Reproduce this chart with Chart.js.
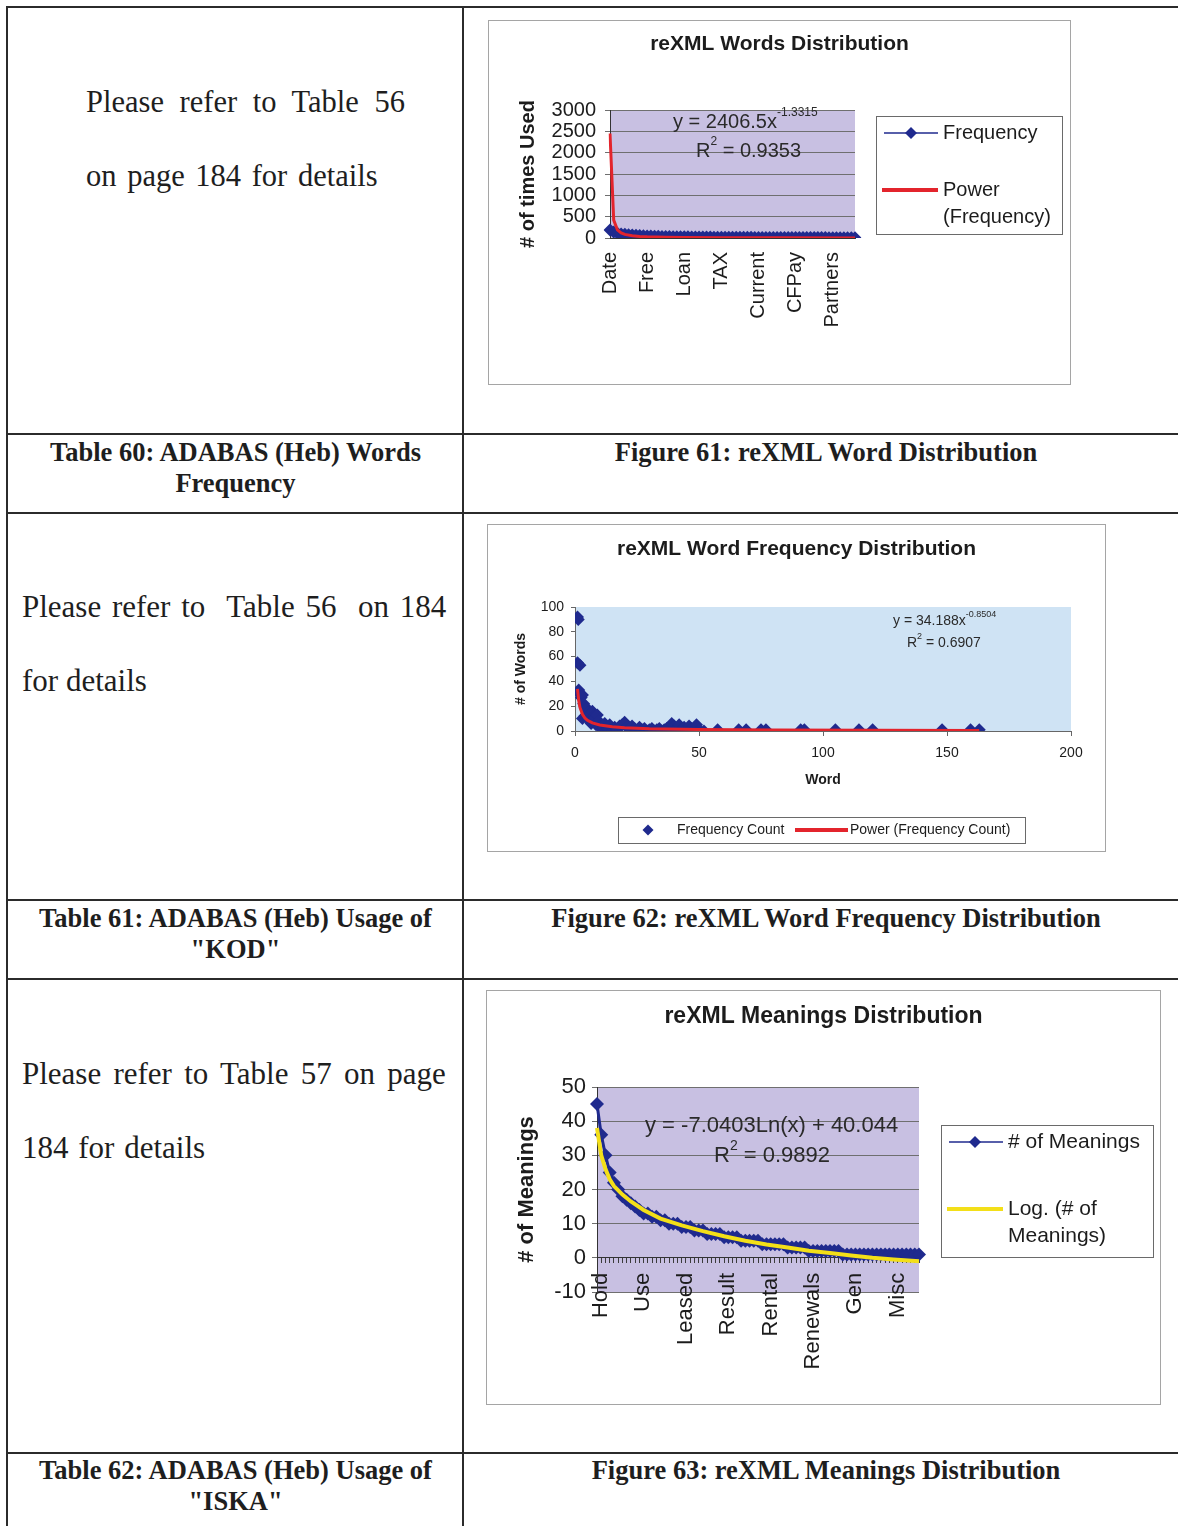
<!DOCTYPE html>
<html>
<head>
<meta charset="utf-8">
<script src="https://cdn.jsdelivr.net/npm/chart.js@4.4.1/dist/chart.umd.min.js"></script>
<style>
  html, body { margin: 0; padding: 0; background: #fff; }
  body { width: 1178px; height: 1526px; position: relative; overflow: hidden;
         font-family: "Liberation Serif", "Times New Roman", serif; color: #1e1e1e; }
  .h { position: absolute; left: 6px; width: 1180px; height: 2px; background: #2b2b2b; }
  .v { position: absolute; top: 6px; width: 2px; height: 1530px; background: #2b2b2b; }
  .txt { position: absolute; white-space: pre; line-height: 74px; }
  .cap { position: absolute; font-weight: bold; font-size: 26.5px; text-align: center; line-height: 31px; }
  canvas { position: absolute; }
</style>
</head>
<body>

<div class="h" style="top:6px"></div>
<div class="h" style="top:433px"></div>
<div class="h" style="top:512px"></div>
<div class="h" style="top:899px"></div>
<div class="h" style="top:978px"></div>
<div class="h" style="top:1452px"></div>
<div class="v" style="left:6px"></div>
<div class="v" style="left:462px"></div>

<div class="txt" style="left:86px;top:65px;font-size:30.5px"><span style="word-spacing:8px">Please refer to Table 56</span>
<span style="word-spacing:3px">on page 184 for details</span></div>
<div class="cap" style="left:8px;top:437px;width:455px">Table 60: ADABAS (Heb) Words<br>Frequency</div>
<div class="cap" style="left:465px;top:437px;width:722px">Figure 61: reXML Word Distribution</div>

<div class="txt" style="left:22px;top:570px;font-size:31px"><span style="word-spacing:3px">Please refer to  Table 56  on 184</span>
for details</div>
<div class="cap" style="left:8px;top:903px;width:455px">Table 61: ADABAS (Heb) Usage of<br>"KOD"</div>
<div class="cap" style="left:465px;top:903px;width:722px">Figure 62: reXML Word Frequency Distribution</div>

<div class="txt" style="left:22px;top:1037px;font-size:31px"><span style="word-spacing:4.5px">Please refer to Table 57 on page</span>
<span style="word-spacing:2px">184 for details</span></div>
<div class="cap" style="left:8px;top:1455px;width:455px">Table 62: ADABAS (Heb) Usage of<br>"ISKA"</div>
<div class="cap" style="left:465px;top:1455px;width:722px">Figure 63: reXML Meanings Distribution</div>

<canvas id="fig61" width="583" height="365" style="left:488px;top:20px"></canvas>
<canvas id="fig62" width="619" height="328" style="left:487px;top:524px"></canvas>
<canvas id="fig63" width="675" height="415" style="left:486px;top:990px"></canvas>

<script>
// ---- Figure 61: words by rank (only every 10th word is named on the axis)
const wordTicks61 = ['Date', 'Free', 'Loan', 'TAX', 'Current', 'CFPay', 'Partners'];
const wordFreq61 = [190, 140, 110, 95, 85, 75, 68, 62, 57, 52,
                    48, 45, 42, 40, 38, 36, 34, 32, 30, 29,
                    28, 27, 26, 25, 24, 23, 22, 21, 20, 20,
                    19, 18, 18, 17, 17, 16, 16, 15, 15, 14,
                    14, 14, 13, 13, 13, 12, 12, 12, 11, 11,
                    11, 10, 10, 10, 10, 9, 9, 9, 9, 8,
                    8, 8, 8, 7, 7, 7, 7];
const powerIdx61 = [0, 1, 2, 3, 4, 6, 8, 10, 15, 20, 30, 45, 66];
const powerVal61 = [2450, 420, 190, 120, 85, 52, 37, 28, 17, 12, 7, 4, 2.5];

// ---- Figure 62: number of words per frequency
const rank62 = [1, 1.3, 1, 2, 1.5, 2, 2.5, 3, 3.5, 4,
                4.5, 3, 4, 5, 5.5, 6, 6.5, 7, 7.5, 8,
                8.5, 9, 9.5, 10, 11, 11.5, 12, 13, 14, 15,
                16, 17, 18, 19, 20, 21, 22, 23, 24, 25,
                26, 27, 28, 29, 30, 31, 32, 33, 34, 35,
                36, 37, 38, 39, 40, 41, 42, 43, 44, 45,
                46, 47, 48, 49, 50, 52,
                57.5, 66, 69, 75, 77, 91, 92.5, 105, 114.5, 120, 148, 159.5, 163];
const count62 = [92, 90, 55, 53, 33, 30, 27, 29, 22, 20,
                 18, 10, 12, 15, 9, 14, 6, 16, 12, 10,
                 5, 13, 8, 4, 1, 3, 6, 2, 5, 0,
                 3, 1, 4, 5, 7, 3, 1, 4, 2, 0,
                 3, 1, 2, 0, 1, 2, 0, 1, 2, 0,
                 1, 2, 3, 6, 4, 2, 5, 1, 3, 0,
                 4, 2, 1, 5, 1, 0,
                 1, 1, 1, 1, 1, 1, 1, 1, 1, 1, 1, 1, 1];
const powerX62 = [1, 1.5, 2, 3, 4, 5, 7, 10, 15, 20, 30, 50, 80, 120, 163];
const powerY62 = [34, 24.5, 19, 13.5, 10.5, 8.6, 6.5, 4.8, 3.4, 2.7, 1.9, 1.2, 0.8, 0.6, 0.45];

// ---- Figure 63: meanings per word (every 10th word named)
const meaningTicks63 = ['Hold', 'Use', 'Leased', 'Result', 'Rental', 'Renewals', 'Gen', 'Misc'];
const meanings63 = [45, 36, 30, 25, 22, 20, 18, 17, 16, 15,
                    14, 13, 13, 12, 12, 11, 11, 10, 10, 10,
                    9, 9, 9, 8, 8, 8, 7, 7, 7, 7,
                    6, 6, 6, 6, 5, 5, 5, 5, 5, 4,
                    4, 4, 4, 4, 4, 3, 3, 3, 3, 3,
                    2, 2, 2, 2, 2, 2, 2, 2,
                    1, 1, 1, 1, 1, 1, 1, 1, 1, 1, 1, 1, 1, 1, 1, 1, 1, 1, 1];
const logIdx63 = [0, 1, 2, 3, 4, 6, 8, 11, 15, 20, 25, 30, 35, 40, 45, 50, 55, 60, 65, 70, 76];
const logVal63 = [38, 30, 26, 23, 21, 18.5, 16.5, 14, 11.5, 9.5, 7.8, 6.3, 5, 3.9, 3, 2.1, 1.4, 0.7, 0, -0.5, -1];

const tickEvery = 10;

const FONT = '"Liberation Sans", Arial, sans-serif';
const INK = '#1c1c1c';
const NAVY = '#1f2a8e';
const RED = '#e3242c';
const YELLOW = '#f3df18';
const LAVENDER = '#c8c0e2';
const SKY = '#cfe3f4';

const everyTenth = (vals, names) =>
  vals.map((v, i) => (i % tickEvery === 0 ? (names[i / tickEvery] || '') : ''));

const sparse = (len, idx, vals) => {
  const out = new Array(len).fill(null);
  idx.forEach((k, j) => { out[k] = vals[j]; });
  return out;
};

function diamond(ctx, x, y, r, color) {
  ctx.fillStyle = color;
  ctx.beginPath();
  ctx.moveTo(x - r, y);
  ctx.lineTo(x, y - r);
  ctx.lineTo(x + r, y);
  ctx.lineTo(x, y + r);
  ctx.closePath();
  ctx.fill();
}

// frame, title, plot background, boxed legend and trendline labels
function decor(cfg) {
  return {
    id: 'decor',
    beforeDraw(chart) {
      const { ctx, chartArea: a, width, height } = chart;
      ctx.save();
      ctx.fillStyle = '#fff';
      ctx.fillRect(0, 0, width, height);
      ctx.fillStyle = cfg.plotBg;
      ctx.fillRect(a.left, a.top, a.right - a.left, a.bottom - a.top);
      ctx.strokeStyle = '#a5a5a5';
      ctx.lineWidth = 1;
      ctx.strokeRect(0.5, 0.5, width - 1, height - 1);
      // chart title, centred on the whole frame like the spreadsheet does
      ctx.fillStyle = INK;
      ctx.font = 'bold ' + cfg.title.size + 'px ' + FONT;
      ctx.textAlign = 'center';
      ctx.textBaseline = 'middle';
      ctx.fillText(cfg.title.text, width / 2, cfg.title.y);
      ctx.restore();
    },
    afterDraw(chart) {
      const ctx = chart.ctx;
      const L = cfg.legend;
      ctx.save();
      ctx.strokeStyle = '#6a6a6a';
      ctx.lineWidth = 1;
      ctx.strokeRect(L.box[0] + 0.5, L.box[1] + 0.5, L.box[2], L.box[3]);
      ctx.textBaseline = 'middle';
      L.items.forEach(it => {
        if (it.x0 !== undefined) {
          ctx.strokeStyle = it.color;
          ctx.lineWidth = it.width;
          ctx.beginPath();
          ctx.moveTo(it.x0, it.y);
          ctx.lineTo(it.x1, it.y);
          ctx.stroke();
        }
        if (it.mark) diamond(ctx, it.mark, it.y, it.r, it.color);
        ctx.fillStyle = INK;
        ctx.font = L.size + 'px ' + FONT;
        it.text.forEach((t, k) => ctx.fillText(t, it.tx, it.y + k * L.lh));
      });
      ctx.fillStyle = '#2a2a2a';
      cfg.notes.forEach(n => {
        let x = n.x;
        n.parts.forEach(([t, sup]) => {
          const s = sup ? Math.round(n.size * 0.62) : n.size;
          ctx.font = s + 'px ' + FONT;
          ctx.fillText(t, x, sup ? n.y - n.size * 0.45 : n.y);
          x += ctx.measureText(t).width;
        });
      });
      ctx.restore();
    }
  };
}

const f = (size, bold) => ({ family: FONT, size: size, weight: bold ? 'bold' : 'normal' });
const plain = v => String(v);

// ---------------- Figure 61
new Chart(document.getElementById('fig61'), {
  type: 'line',
  data: {
    labels: everyTenth(wordFreq61, wordTicks61),
    datasets: [
      {
        label: 'Frequency',
        data: wordFreq61,
        borderColor: NAVY,
        backgroundColor: NAVY,
        borderWidth: 3,
        pointStyle: 'rectRot',
        pointRadius: 6.5,
        pointBorderWidth: 0,
        order: 2
      },
      {
        label: 'Power (Frequency)',
        data: sparse(wordFreq61.length, powerIdx61, powerVal61),
        borderColor: RED,
        borderWidth: 3,
        pointRadius: 0,
        spanGaps: true,
        order: 1
      }
    ]
  },
  options: {
    responsive: false,
    animation: false,
    layout: { padding: { left: 10, right: 216, top: 90, bottom: 0 } },
    plugins: {
      legend: { display: false },
      tooltip: { enabled: false },
      title: { display: false }
    },
    scales: {
      x: {
        grid: { display: false, drawTicks: false },
        border: { display: true, color: '#333' },
        ticks: { autoSkip: false, minRotation: 90, maxRotation: 90, padding: 14, color: INK, font: f(20) },
        afterFit(s) { s.height = 147; }
      },
      y: {
        min: 0,
        max: 3000,
        ticks: { stepSize: 500, autoSkip: false, callback: plain, color: INK, font: f(20), padding: 9 },
        grid: { color: '#6f6f6f', tickLength: 5 },
        border: { color: '#333' },
        title: { display: true, text: '# of times Used', color: INK, font: f(20, true), padding: { top: 18, bottom: 0 } },
        afterFit(s) { s.width = 112; }
      }
    }
  },
  plugins: [decor({
    plotBg: LAVENDER,
    title: { text: 'reXML Words Distribution', size: 21, y: 24 },
    legend: {
      box: [388, 96, 186, 118], size: 20, lh: 27,
      items: [
        { x0: 396, x1: 450, y: 113, color: NAVY, width: 1.5, mark: 423, r: 6, tx: 455, text: ['Frequency'] },
        { x0: 394, x1: 450, y: 170, color: RED, width: 4, tx: 455, text: ['Power', '(Frequency)'] }
      ]
    },
    notes: [
      { x: 185, y: 102, size: 20, parts: [['y = 2406.5x'], ['-1.3315', 1]] },
      { x: 208, y: 131, size: 20, parts: [['R'], ['2', 1], [' = 0.9353']] }
    ]
  })]
});

// ---------------- Figure 62
new Chart(document.getElementById('fig62'), {
  type: 'scatter',
  data: {
    datasets: [
      {
        label: 'Frequency Count',
        data: rank62.map((x, i) => ({ x: x, y: count62[i] })),
        backgroundColor: NAVY,
        pointStyle: 'rectRot',
        pointRadius: 6.5,
        pointBorderWidth: 0,
        order: 2
      },
      {
        label: 'Power (Frequency Count)',
        data: powerX62.map((x, i) => ({ x: x, y: powerY62[i] })),
        showLine: true,
        borderColor: RED,
        borderWidth: 3,
        pointRadius: 0,
        order: 1
      }
    ]
  },
  options: {
    responsive: false,
    animation: false,
    layout: { padding: { left: 10, right: 35, top: 83, bottom: 63.6 } },
    plugins: {
      legend: { display: false },
      tooltip: { enabled: false },
      title: { display: false }
    },
    scales: {
      x: {
        type: 'linear',
        min: 0,
        max: 200,
        ticks: { stepSize: 50, color: INK, font: f(14), padding: 9 },
        grid: { drawOnChartArea: false, tickLength: 5, color: '#666' },
        border: { color: '#666' },
        title: { display: true, text: 'Word', color: INK, font: f(14, true), padding: { top: 0, bottom: 0 } },
        afterFit(s) { s.height = 57.4; }
      },
      y: {
        min: 0,
        max: 100,
        ticks: { stepSize: 20, color: INK, font: f(14), padding: 7 },
        grid: { drawOnChartArea: false, tickLength: 4, color: '#666' },
        border: { color: '#666' },
        title: { display: true, text: '# of Words', color: INK, font: f(14, true), padding: { top: 15.6, bottom: 0 } },
        afterFit(s) { s.width = 78; }
      }
    }
  },
  plugins: [decor({
    plotBg: SKY,
    title: { text: 'reXML Word Frequency Distribution', size: 21, y: 25 },
    legend: {
      box: [131, 293, 407, 26], size: 14, lh: 16,
      items: [
        { mark: 161, y: 306, r: 5.5, color: NAVY, tx: 190, text: ['Frequency Count'] },
        { x0: 308, x1: 361, y: 306, color: RED, width: 4, tx: 363, text: ['Power (Frequency Count)'] }
      ]
    },
    notes: [
      { x: 406, y: 97, size: 14, parts: [['y = 34.188x'], ['-0.8504', 1]] },
      { x: 420, y: 119, size: 14, parts: [['R'], ['2', 1], [' = 0.6907']] }
    ]
  })]
});

// ---------------- Figure 63
new Chart(document.getElementById('fig63'), {
  type: 'line',
  data: {
    labels: everyTenth(meanings63, meaningTicks63),
    datasets: [
      {
        label: '# of Meanings',
        data: meanings63,
        borderColor: NAVY,
        backgroundColor: NAVY,
        borderWidth: 3,
        pointStyle: 'rectRot',
        pointRadius: 7,
        pointBorderWidth: 0,
        order: 2
      },
      {
        label: 'Log. (# of Meanings)',
        data: sparse(meanings63.length, logIdx63, logVal63),
        borderColor: YELLOW,
        borderWidth: 4,
        pointRadius: 0,
        spanGaps: true,
        order: 1
      }
    ]
  },
  options: {
    responsive: false,
    animation: false,
    layout: { padding: { left: 10, right: 242, top: 97, bottom: 113 } },
    plugins: {
      legend: { display: false },
      tooltip: { enabled: false },
      title: { display: false }
    },
    scales: {
      x: {
        position: { y: 0 },
        grid: { drawOnChartArea: false, tickLength: 5, color: '#3c3c3c' },
        border: { color: '#333' },
        ticks: { autoSkip: false, minRotation: 90, maxRotation: 90, padding: 10, labelOffset: 4, color: INK, font: f(22) }
      },
      y: {
        position: 'left',
        min: -10,
        max: 50,
        ticks: { stepSize: 10, color: INK, font: f(22), padding: 6 },
        grid: { color: '#6f6f6f', tickLength: 5 },
        border: { color: '#333' },
        title: { display: true, text: '# of Meanings', color: INK, font: f(22, true), padding: { top: 17.8, bottom: 0 } },
        afterFit(s) { s.width = 101; }
      }
    }
  },
  plugins: [decor({
    plotBg: LAVENDER,
    title: { text: 'reXML Meanings Distribution', size: 23, y: 27 },
    legend: {
      box: [455, 135, 212, 132], size: 21, lh: 27,
      items: [
        { x0: 463, x1: 517, y: 152, color: NAVY, width: 1.5, mark: 489, r: 6, tx: 522, text: ['# of Meanings'] },
        { x0: 461, x1: 517, y: 219, color: YELLOW, width: 4, tx: 522, text: ['Log. (# of', 'Meanings)'] }
      ]
    },
    notes: [
      { x: 159, y: 136, size: 22, parts: [['y = -7.0403Ln(x) + 40.044']] },
      { x: 228, y: 166, size: 22, parts: [['R'], ['2', 1], [' = 0.9892']] }
    ]
  })]
});
</script>
</body>
</html>
